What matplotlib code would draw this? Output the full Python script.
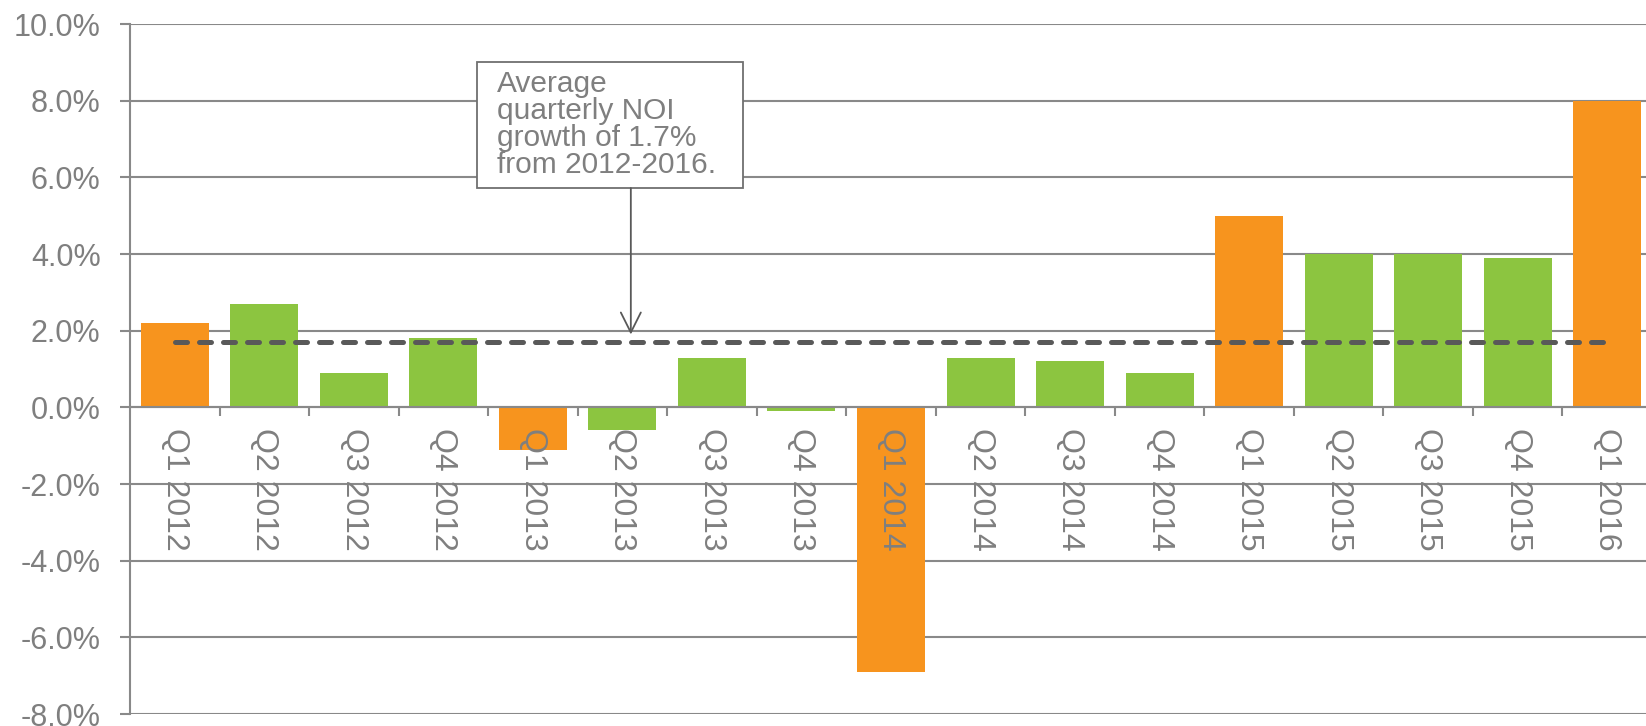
import numpy as np
import matplotlib
matplotlib.use("Agg")
import matplotlib.pyplot as plt
from matplotlib.patches import Rectangle

# --- data ---
quarters = ["Q1 2012", "Q2 2012", "Q3 2012", "Q4 2012",
            "Q1 2013", "Q2 2013", "Q3 2013", "Q4 2013",
            "Q1 2014", "Q2 2014", "Q3 2014", "Q4 2014",
            "Q1 2015", "Q2 2015", "Q3 2015", "Q4 2015",
            "Q1 2016"]
noi_growth = [2.2, 2.7, 0.9, 1.8,
              -1.1, -0.6, 1.3, -0.1,
              -6.9, 1.3, 1.2, 0.9,
              5.0, 4.0, 4.0, 3.9,
              8.0]
average_growth = 1.7
y_ticks = [-8, -6, -4, -2, 0, 2, 4, 6, 8, 10]
note = "Average\nquarterly NOI\ngrowth of 1.7%\nfrom 2012-2016."

ORANGE = "#F7941E"
GREEN = "#8CC540"
TEXT = "#7F7F7F"
GRID = "#898989"
DARK = "#595959"

plt.rcParams["font.family"] = ["Liberation Sans", "DejaVu Sans"]

fig = plt.figure(figsize=(16.46, 7.26), dpi=100)
# plot area runs slightly past the right edge, as in the reference
ax = fig.add_axes([130 / 1646, 12 / 726, 1522 / 1646, 690 / 726])

x = np.arange(len(quarters))
# Q1 quarters are orange, the rest green
colors = [ORANGE if q.startswith("Q1") else GREEN for q in quarters]

# gridlines behind the bars
for yv in y_ticks:
    ax.axhline(yv, color=GRID, lw=1.5, zorder=0.5)

ax.bar(x, noi_growth, width=0.76, color=colors, zorder=1)

# average line (dashed, round caps)
avg_line, = ax.plot(x, [average_growth] * len(x), color=DARK, lw=3.6,
                    dash_capstyle="round", zorder=3)
avg_line.set_dashes((2.4, 2.4))

ax.set_xlim(-0.5, len(x) - 0.5)
ax.set_ylim(-8, 10)

# axes styling
for side in ["top", "right"]:
    ax.spines[side].set_visible(False)
ax.spines["bottom"].set_position(("data", 0))
ax.spines["bottom"].set_color(GRID)
ax.spines["bottom"].set_linewidth(1.5)
ax.spines["left"].set_color(GRID)
ax.spines["left"].set_linewidth(1.5)

ax.set_yticks(y_ticks)
ax.set_yticklabels([f"{v:.1f}%" for v in y_ticks])
ax.tick_params(axis="y", length=7.2, width=1.5, color=GRID, pad=14,
               labelsize=22, labelcolor=TEXT)

ax.set_xticks(x)
ax.set_xticklabels(quarters, rotation=-90, va="top", ha="center")
ax.set_xticks(x[:-1] + 0.5, minor=True)
ax.tick_params(axis="x", which="major", length=0, pad=15,
               labelsize=23, labelcolor=TEXT)
ax.tick_params(axis="x", which="minor", length=6.5, width=1.5, color=GRID)

# annotation box + arrow
ax.add_patch(Rectangle((3.372, 5.72), 6.348 - 3.372, 9.02 - 5.72,
                       facecolor="white", edgecolor="#6F6F6F", lw=1.3, zorder=4))
ax.text(3.595, 8.80, note, fontsize=21.5, color=TEXT, va="top", ha="left",
        linespacing=0.95, zorder=5)
ax.annotate("", xy=(5.094, 1.9), xytext=(5.094, 5.72),
            arrowprops=dict(arrowstyle="->", color=DARK, lw=1.3,
                            mutation_scale=36, shrinkA=0, shrinkB=0),
            zorder=5)

fig.savefig("out.png", dpi=100)
